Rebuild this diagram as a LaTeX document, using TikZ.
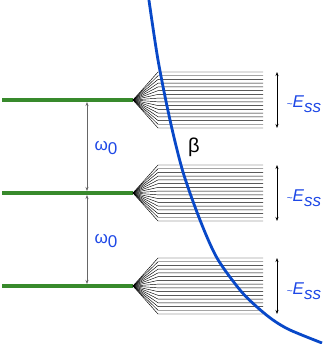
\documentclass[tikz,border=0pt]{standalone}
\usepackage{fontspec}
\setmainfont{Liberation Sans}
\usetikzlibrary{arrows.meta,calc}
\definecolor{levelgreen}{RGB}{56,138,44}
\definecolor{curveblue}{RGB}{8,72,200}
\definecolor{labelblue}{RGB}{30,72,230}

\begin{document}
\begin{tikzpicture}[
    x=0.035cm, y=-0.035cm,
    level/.style={draw=levelgreen, line width=3.6pt},
    fanline/.style={draw=black, line width=0.45pt},
    curve/.style={draw=curveblue, line width=2.8pt},
    gap/.style={{Stealth[length=4pt,width=3pt]}-{Stealth[length=4pt,width=3pt]}, draw=gray!80!black, line width=0.6pt},
    spread/.style={{Stealth[length=4pt,width=3pt]}-{Stealth[length=4pt,width=3pt]}, draw=black, line width=0.6pt},
    lbl/.style={text=labelblue, font=\fontsize{17}{20}\selectfont, inner sep=0pt}
  ]
    \useasboundingbox (0,0) rectangle (327,344);

    % levels and their fans of sidebands
    \foreach \name/\y in {top/100, mid/193, bot/286} {
      \coordinate (\name) at (133,\y);
      \draw[level] (2,\y) -- (\name);
      \foreach \k in {0,...,15}
        \draw[fanline] (\name) -- (158,\y-28+\k*3.733) -- (263,\y-28+\k*3.733);
      \coordinate (\name-hi) at (277,\y-28);
      \coordinate (\name-lo) at (277,\y+28);
      \coordinate (\name-w) at (87,\y);
    }

    % dispersion curve
    \draw[curve] plot[smooth] coordinates {(148.5,-3) (158,60) (170,120) (183,172) (200,220) (217,258) (240,290) (257,307) (273,320) (290,330) (322,343)};

    % spacings
    \draw[gap] ($(top-w)+(0,2)$) -- ($(mid-w)+(0,-2)$);
    \draw[gap] ($(mid-w)+(0,2)$) -- ($(bot-w)+(0,-2)$);
    \draw[spread] (top-hi) -- (top-lo);
    \draw[spread] (mid-hi) -- (mid-lo);
    \draw[spread] (bot-hi) -- (bot-lo);

    % labels
    \node[lbl] (w1) at (106,148) {ω\raisebox{-0.45ex}{0}};
    \node[lbl] (w2) at (106,241) {ω\raisebox{-0.45ex}{0}};
    \node[lbl, text=black, font=\fontsize{20}{22}\selectfont] (beta) at (194,147) {β};
    \node[lbl] (e1) at (304,104) {{\fontsize{10}{11}\selectfont\textasciitilde}\textit{E}\raisebox{-0.5ex}{\textit{ss}}};
    \node[lbl] (e2) at (304,198) {{\fontsize{10}{11}\selectfont\textasciitilde}\textit{E}\raisebox{-0.5ex}{\textit{ss}}};
    \node[lbl] (e3) at (304,291) {{\fontsize{10}{11}\selectfont\textasciitilde}\textit{E}\raisebox{-0.5ex}{\textit{ss}}};
  \end{tikzpicture}
\end{document}
